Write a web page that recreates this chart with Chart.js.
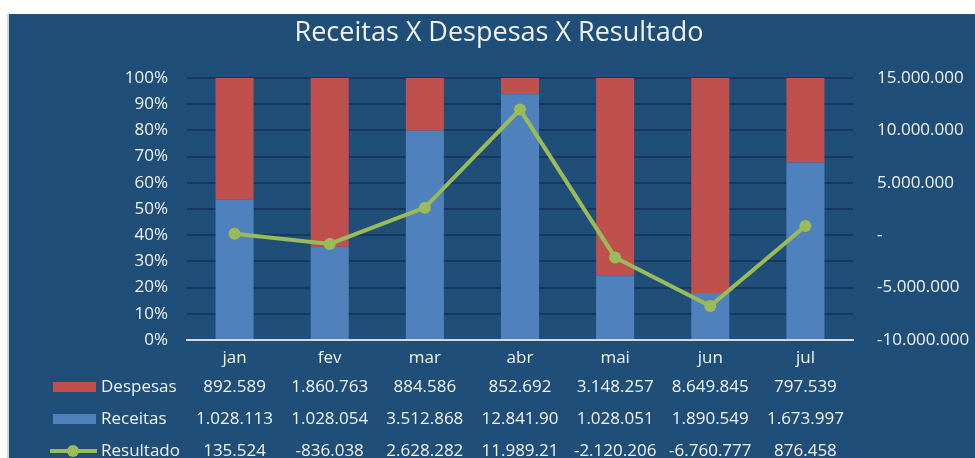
<!DOCTYPE html>
<html>
<head>
<meta charset="utf-8">
<script src="https://cdn.jsdelivr.net/npm/chart.js@4"></script>
<style>
  html, body { margin: 0; padding: 0; background: #ffffff; overflow: hidden; }
  #box { position: absolute; left: 7px; top: 14px; width: 966px; height: 460px;
         border-left: 2px solid #d6d6d6; background: #1f4e79; }
  canvas { display: block; }
</style>
</head>
<body>
<div id="box"><canvas id="grafico" width="966" height="460"></canvas></div>
<script>
"use strict";

const titulo = "Receitas X Despesas X Resultado";
const categorias = ["jan", "fev", "mar", "abr", "mai", "jun", "jul"];
const despesas = [892589, 1860763, 884586, 852692, 3148257, 8649845, 797539];
const receitas = [1028113, 1028054, 3512868, 12841900, 1028051, 1890549, 1673997];
const resultado = [135524, -836038, 2628282, 11989210, -2120206, -6760777, 876458];

const corTexto = "#f2f2f2";
const fonte = "Open Sans";

// 100% empilhado
let pctReceitas = receitas.map((r, i) => r / (r + despesas[i]) * 100);
let pctDespesas = despesas.map((d, i) => d / (receitas[i] + d) * 100);

function milhar(v) {
    let s = String(Math.abs(Math.round(v))).replace(/\B(?=(\d{3})+(?!\d))/g, ".");
    return (v < 0 ? "-" : "") + s;
}

// titulo (um pouco deslocado para a direita, como no Excel)
const cabecalho = {
    id: "cabecalho",
    afterDraw(chart) {
        const ctx = chart.ctx;
        ctx.save();
        ctx.font = "27px '" + fonte + "'";
        ctx.fillStyle = corTexto;
        ctx.textAlign = "center";
        ctx.textBaseline = "middle";
        ctx.fillText(titulo, 490, 19);
        ctx.restore();
    }
};

// tabela de dados embaixo do grafico
const tabela = {
    id: "tabela",
    afterDraw(chart) {
        const ctx = chart.ctx;
        const x = chart.scales.x;
        const linhas = [
            { nome: "Despesas", cor: "#c0504d", valores: despesas, tipo: "barra" },
            { nome: "Receitas", cor: "#4f81bd", valores: receitas, tipo: "barra" },
            { nome: "Resultado", cor: "#9bbb59", valores: resultado, tipo: "linha" }
        ];
        ctx.save();
        ctx.font = "17px '" + fonte + "'";
        ctx.textBaseline = "middle";
        linhas.forEach((l, k) => {
            let y = 373 + k * 32;
            if (l.tipo == "barra") {
                ctx.fillStyle = l.cor;
                ctx.fillRect(44, y - 5, 43, 10);
            } else {
                ctx.strokeStyle = l.cor;
                ctx.lineWidth = 4;
                ctx.beginPath();
                ctx.moveTo(41, y);
                ctx.lineTo(88, y);
                ctx.stroke();
                ctx.fillStyle = l.cor;
                ctx.beginPath();
                ctx.arc(64, y, 6, 0, Math.PI * 2);
                ctx.fill();
            }
            ctx.fillStyle = corTexto;
            ctx.textAlign = "left";
            ctx.fillText(l.nome, 92, y);
            ctx.textAlign = "center";
            l.valores.forEach((v, i) => {
                let txt = milhar(v);
                while (ctx.measureText(txt).width > 84) txt = txt.slice(0, -1);
                ctx.fillText(txt, x.getPixelForValue(i), y);
            });
        });
        ctx.restore();
    }
};

new Chart(document.getElementById("grafico"), {
    type: "bar",
    data: {
        labels: categorias,
        datasets: [
            {
                type: "line",
                label: "Resultado",
                data: resultado,
                yAxisID: "y2",
                borderColor: "#9bbb59",
                backgroundColor: "#9bbb59",
                borderWidth: 4,
                pointRadius: 6,
                pointBorderWidth: 0,
                pointBackgroundColor: "#9bbb59",
                tension: 0,
                order: 0
            },
            {
                label: "Receitas",
                data: pctReceitas,
                backgroundColor: "#4f81bd",
                yAxisID: "y",
                stack: "s",
                order: 1
            },
            {
                label: "Despesas",
                data: pctDespesas,
                backgroundColor: "#c0504d",
                yAxisID: "y",
                stack: "s",
                order: 2
            }
        ]
    },
    options: {
        responsive: false,
        animation: false,
        barPercentage: 0.4,
        categoryPercentage: 1,
        layout: { padding: { top: 64, left: 0, right: 0, bottom: 0 } },
        plugins: {
            legend: { display: false },
            tooltip: { enabled: false },
            title: { display: false }
        },
        scales: {
            x: {
                stacked: true,
                grid: { display: false, drawTicks: false },
                border: { display: true, color: "#d9d9d9", width: 2 },
                ticks: { color: corTexto, font: { family: fonte, size: 17 }, padding: 8 },
                afterFit(s) { s.height = 134; }
            },
            y: {
                stacked: true,
                min: 0,
                max: 100,
                grid: { color: "#17375e", lineWidth: 2, drawTicks: false },
                border: { display: false },
                ticks: {
                    stepSize: 10,
                    color: corTexto,
                    font: { family: fonte, size: 17 },
                    padding: 19,
                    callback: v => v + "%"
                },
                afterFit(s) { s.width = 178; }
            },
            y2: {
                position: "right",
                min: -10000000,
                max: 15000000,
                grid: { display: false, drawTicks: false },
                border: { display: false },
                ticks: {
                    stepSize: 5000000,
                    color: corTexto,
                    crossAlign: "near",
                    font: { family: fonte, size: 17 },
                    padding: 24,
                    callback: v => v == 0 ? "-" : milhar(v)
                },
                afterFit(s) { s.width = 122; }
            }
        }
    },
    plugins: [cabecalho, tabela]
});
</script>
</body>
</html>
